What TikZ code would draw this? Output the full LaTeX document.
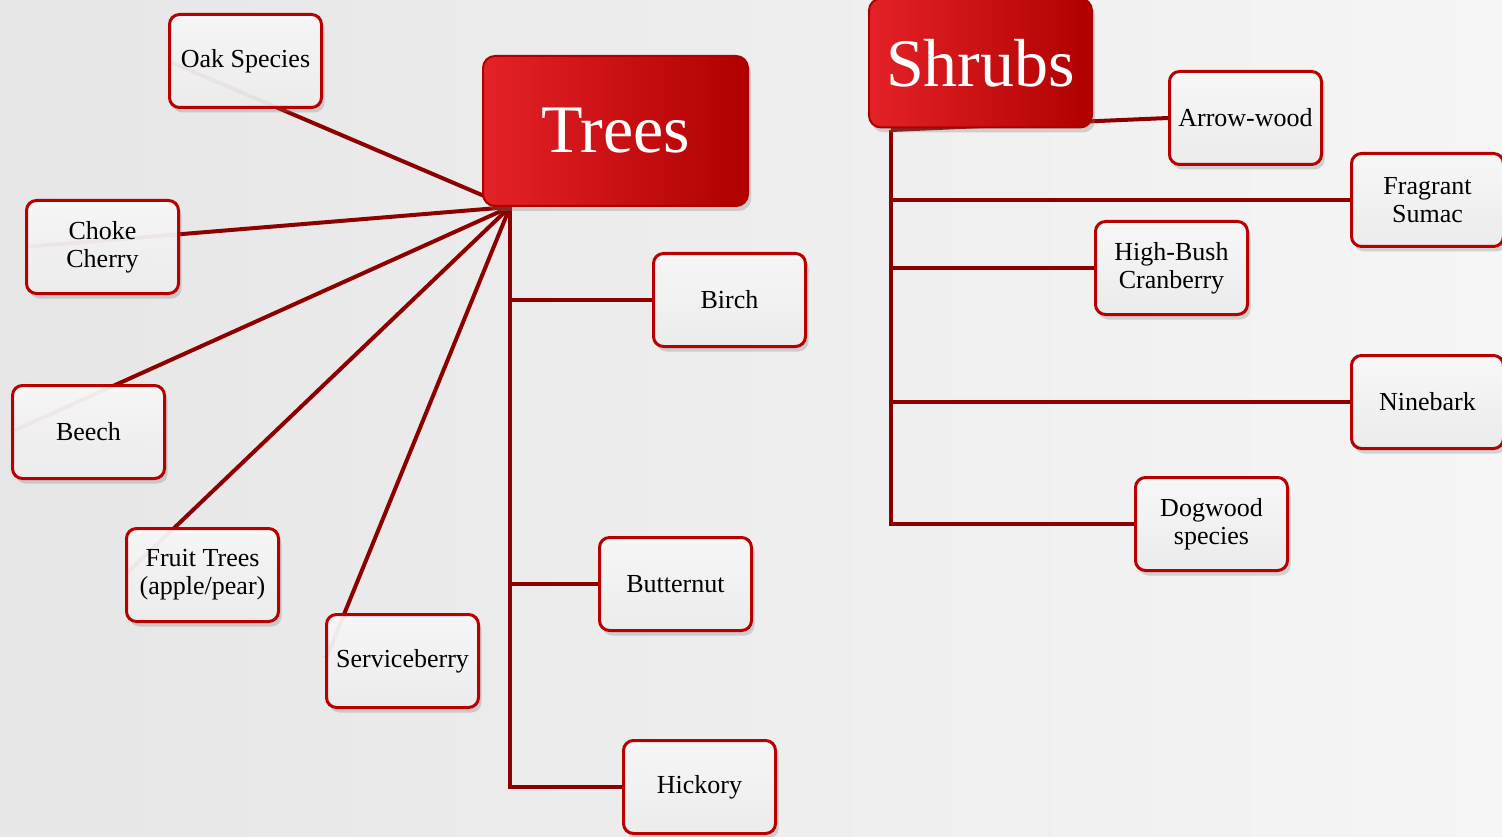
\documentclass[tikz,border=0pt]{standalone}
\usepackage{fontspec}
\setmainfont{Liberation Serif}
\usetikzlibrary{shadows}
\pgfdeclarelayer{bg}
\pgfdeclarelayer{lines}
\pgfsetlayers{bg,lines,main}
\definecolor{conn}{RGB}{140,0,0}
\definecolor{leafborder}{RGB}{185,0,0}
\definecolor{redlight}{RGB}{228,34,40}
\definecolor{reddark}{RGB}{176,0,0}
\definecolor{titleborder}{RGB}{175,0,0}
\tikzset{
  leaf/.style={draw=leafborder, line width=3pt, rounded corners=10pt,
    minimum width=152pt, minimum height=93pt, inner sep=2pt,
    top color={rgb,255:red,250;green,250;blue,250}, bottom color={rgb,255:red,238;green,238;blue,238},
    fill opacity=0.93, text opacity=1, align=center,
    font=\fontsize{26}{28}\selectfont,
    drop shadow={shadow xshift=3pt, shadow yshift=-5pt, opacity=0.3}},
  title/.style={draw=titleborder, line width=2pt, rounded corners=12pt,
    left color=redlight, right color=reddark, text=white, inner sep=0pt,
    font=\fontsize{68}{70}\selectfont,
    drop shadow={shadow xshift=3pt, shadow yshift=-5pt, opacity=0.3}},
  link/.style={draw=conn, line width=4pt},
  spoke/.style={link, shorten >=4pt}
}
\begin{document}
\begin{tikzpicture}[x=1pt,y=-1pt]
\useasboundingbox (0,0) rectangle (1502,837);
\begin{pgfonlayer}{bg}
  \shade[left color={rgb,255:red,230;green,230;blue,230}, right color={rgb,255:red,245;green,245;blue,245}] (0,0) rectangle (1502,837);
\end{pgfonlayer}
% title nodes
\node[title, minimum width=265pt, minimum height=150pt] (trees) at (615.5,131) {Trees};
\node[title, minimum width=223pt, minimum height=129pt] (shrubs) at (980.5,63) {Shrubs};
% tree leaves
\node[leaf] (oak) at (245.5,61) {Oak Species};
\node[leaf] (choke) at (102.5,247) {Choke\\Cherry};
\node[leaf] (beech) at (88.5,432) {Beech};
\node[leaf] (fruit) at (202.5,575) {Fruit Trees\\(apple/pear)};
\node[leaf] (service) at (402.5,661) {Serviceberry};
\node[leaf] (birch) at (729.5,300) {Birch};
\node[leaf] (butter) at (675.5,584) {Butternut};
\node[leaf] (hickory) at (699.5,787) {Hickory};
% shrub leaves
\node[leaf] (arrow) at (1245.5,118) {Arrow-wood};
\node[leaf] (frag) at (1427.5,200) {Fragrant\\Sumac};
\node[leaf] (high) at (1171.5,268) {High-Bush\\Cranberry};
\node[leaf] (nine) at (1427.5,402) {Ninebark};
\node[leaf] (dog) at (1211.5,524) {Dogwood\\species};
\coordinate (th) at (510,207);
\coordinate (sh) at (891,130);
\begin{pgfonlayer}{lines}
  \draw[spoke] (th) -- (oak.west);
  \draw[spoke] (th) -- (choke.west);
  \draw[spoke] (th) -- (beech.west);
  \draw[spoke] (th) -- (fruit.west);
  \draw[spoke] (th) -- (service.west);
  \draw[link] (th) |- (hickory.west);
  \draw[link] (th) |- (birch.west);
  \draw[link] (th) |- (butter.west);
  \draw[link] (sh) -- (arrow.west);
  \draw[link] (sh) |- (dog.west);
  \draw[link] (sh) |- (frag.west);
  \draw[link] (sh) |- (high.west);
  \draw[link] (sh) |- (nine.west);
\end{pgfonlayer}
\end{tikzpicture}
\end{document}
